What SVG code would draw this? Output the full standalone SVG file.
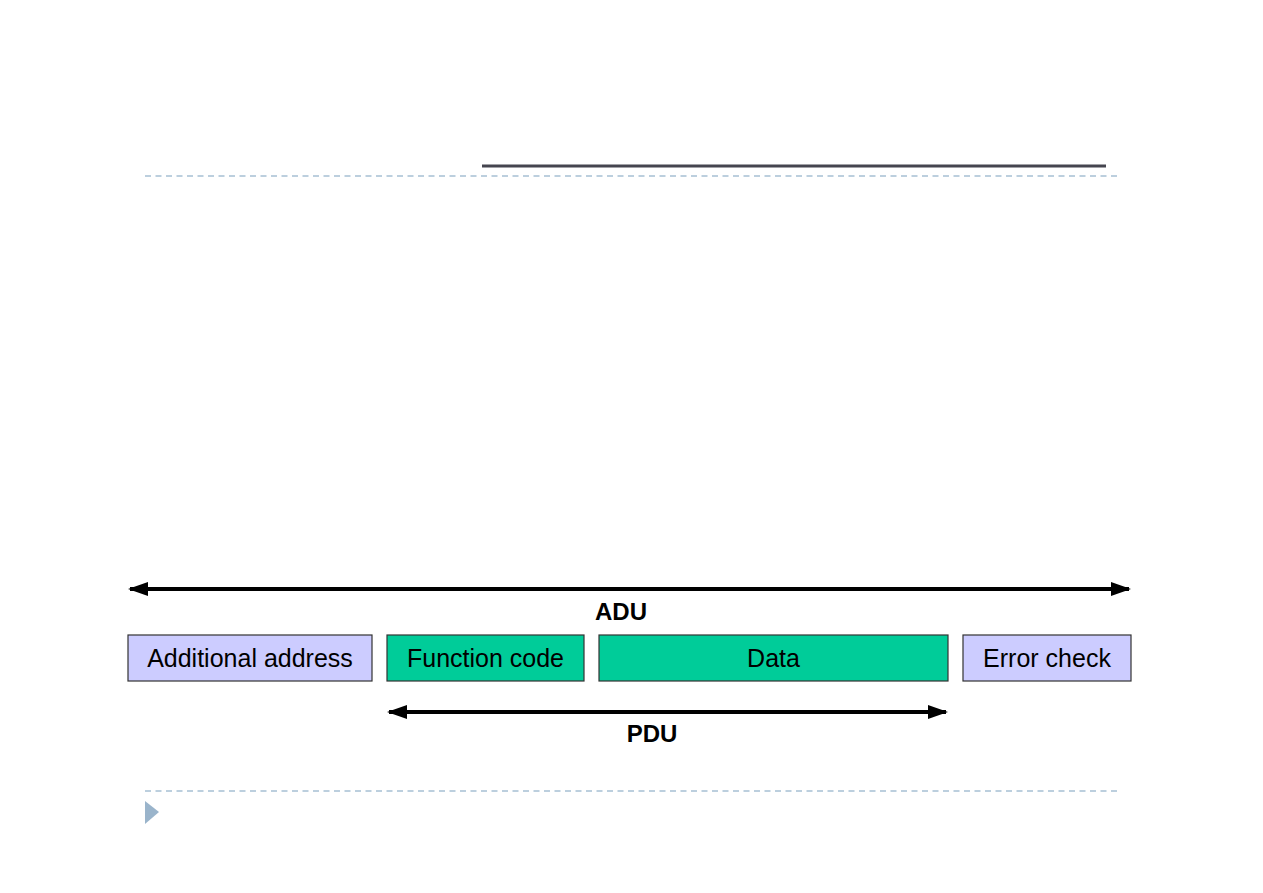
<svg xmlns="http://www.w3.org/2000/svg" width="1263" height="893" viewBox="0 0 1263 893">
<style>
.box{stroke:#333;stroke-width:1.2}
.lav{fill:#ccccff}
.grn{fill:#00cc99}
.lbl{font-family:"Liberation Sans",Arial,sans-serif;font-size:25px;fill:#000;text-anchor:middle}
.bold{font-weight:bold;font-size:24px}
.dash{stroke:#a6c0d4;stroke-width:1.5;stroke-dasharray:6 4.5;fill:none}
.arr{stroke:#000;stroke-width:4;fill:none}
</style>
<defs>
<marker id="ah" viewBox="0 0 20 14" refX="18" refY="7" markerWidth="20" markerHeight="14" markerUnits="userSpaceOnUse" orient="auto-start-reverse">
<path d="M0,0 L20,7 L0,14 Z" fill="#000"/>
</marker>
</defs>
<rect width="1263" height="893" fill="#fff"/>
<line x1="482" y1="166" x2="1106" y2="166" stroke="#45454f" stroke-width="3"/>
<line class="dash" x1="145" y1="176" x2="1117" y2="176"/>
<line class="dash" x1="145" y1="791" x2="1117" y2="791"/>
<polygon points="145,801 159,812 145,824" fill="#9ab4cb"/>
<g id="connectors">
<line class="arr" x1="130" y1="589" x2="1129" y2="589" marker-start="url(#ah)" marker-end="url(#ah)"/>
<line class="arr" x1="389" y1="712" x2="946" y2="712" marker-start="url(#ah)" marker-end="url(#ah)"/>
</g>
<g id="adu-label"><text class="lbl bold" x="621" y="620">ADU</text></g>
<g id="pdu-label"><text class="lbl bold" x="652" y="742">PDU</text></g>
<g id="additional-address">
<rect class="box lav" x="128" y="635" width="244" height="46"/>
<text class="lbl" x="250" y="667">Additional address</text>
</g>
<g id="function-code">
<rect class="box grn" x="387" y="635" width="197" height="46"/>
<text class="lbl" x="485.5" y="667">Function code</text>
</g>
<g id="data">
<rect class="box grn" x="599" y="635" width="349" height="46"/>
<text class="lbl" x="773.5" y="667">Data</text>
</g>
<g id="error-check">
<rect class="box lav" x="963" y="635" width="168" height="46"/>
<text class="lbl" x="1047" y="667">Error check</text>
</g>
</svg>
